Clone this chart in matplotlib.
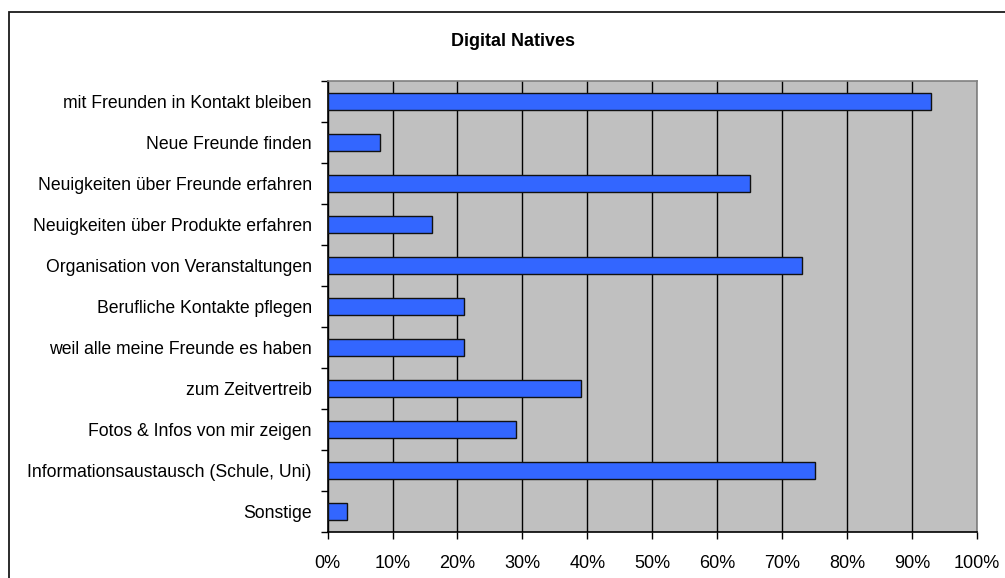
import numpy as np
import matplotlib
matplotlib.use("Agg")
import matplotlib.pyplot as plt
from matplotlib.patches import Rectangle
from matplotlib.ticker import FixedLocator, FuncFormatter

# survey answers, top to bottom as listed
categories = [
    "mit Freunden in Kontakt bleiben",
    "Neue Freunde finden",
    "Neuigkeiten über Freunde erfahren",
    "Neuigkeiten über Produkte erfahren",
    "Organisation von Veranstaltungen",
    "Berufliche Kontakte pflegen",
    "weil alle meine Freunde es haben",
    "zum Zeitvertreib",
    "Fotos & Infos von mir zeigen",
    "Informationsaustausch (Schule, Uni)",
    "Sonstige",
]
shares = [0.93, 0.08, 0.65, 0.16, 0.73, 0.21, 0.21, 0.39, 0.29, 0.75, 0.03]
x_ticks = [0.0, 0.1, 0.2, 0.3, 0.4, 0.5, 0.6, 0.7, 0.8, 0.9, 1.0]

plt.rcParams['font.family'] = ['Liberation Sans', 'DejaVu Sans']

fig = plt.figure(figsize=(10.05, 5.78), dpi=100)
ax = fig.add_axes([0.326, 0.079, 0.646, 0.781])

# chart frame around everything
fig.patches.append(Rectangle((9 / 1005, -0.1), 1.2, 1.1 - 12 / 578,
                             transform=fig.transFigure, fill=False,
                             edgecolor='#1a1a1a', linewidth=1.3))

n = len(categories)
pos = np.arange(n)
ax.set_facecolor('#C0C0C0')
ax.barh(pos, shares, height=0.41, color='#3366FF', edgecolor='#111111',
        linewidth=1.0, zorder=3)

ax.set_xlim(0, 1)
ax.set_ylim(n - 0.5, -0.5)

ax.xaxis.set_major_locator(FixedLocator(x_ticks))
ax.xaxis.set_major_formatter(FuncFormatter(lambda v, p: f"{v * 100:.0f}%"))
ax.grid(axis='x', color='black', linewidth=1.0, zorder=1)
ax.tick_params(axis='x', length=5, width=1, pad=11, labelsize=13)

ax.set_yticks(pos)
ax.set_yticklabels(categories, fontsize=12.7)
ax.set_yticks(np.arange(n + 1) - 0.5, minor=True)
ax.tick_params(axis='y', which='major', length=0, pad=11.5)
ax.tick_params(axis='y', which='minor', length=5, width=1)

for side in ['top', 'right']:
    ax.spines[side].set_color('#808080')
    ax.spines[side].set_linewidth(1.2)
for side in ['left', 'bottom']:
    ax.spines[side].set_color('black')
    ax.spines[side].set_linewidth(1.2)

fig.text(513 / 1005, 1 - 42 / 578, "Digital Natives", ha='center', va='center',
         fontsize=13, fontweight='bold')

fig.savefig('out.png', dpi=100)
